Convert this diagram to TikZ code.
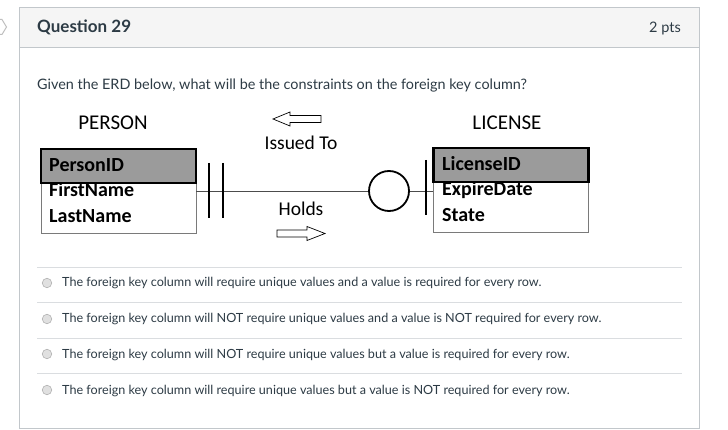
\documentclass[tikz,border=0pt]{standalone}
\usepackage{fontspec}
\setmainfont{Lato}
\newfontfamily\calfont{Carlito}
\definecolor{hdrbg}{HTML}{F5F5F5}
\definecolor{cardline}{HTML}{C2C7CB}
\definecolor{sepline}{HTML}{DADDE0}
\definecolor{txt}{HTML}{2D3B45}
\definecolor{hdrfill}{HTML}{9B9B9B}
\definecolor{boxline}{HTML}{7A7A7A}
\tikzset{
  qtext/.style={inner sep=0pt, text=txt},
  erdtext/.style={inner sep=0pt, font=\calfont\fontsize{19.5}{22}\selectfont},
  entlbl/.style={inner sep=0pt, font=\calfont\fontsize{21}{24}\selectfont},
  attr/.style={inner sep=0pt, anchor=base west, font=\calfont\bfseries\fontsize{20}{22}\selectfont},
  entbox/.style={draw=boxline, line width=0.8pt, fill=white, inner sep=0pt, minimum width=155pt, minimum height=84pt},
  enthdr/.style={draw=black, line width=2.4pt, fill=hdrfill, inner sep=0pt, minimum width=155pt, minimum height=34pt},
  conn/.style={draw=black!70, line width=0.9pt},
  tick/.style={draw=black, line width=2.4pt},
  hollow/.style={draw=black, line width=0.7pt, fill=white, line join=miter},
  sep/.style={draw=sepline, line width=0.8pt},
  radio/.style={circle, draw=black!30, fill=black!12, line width=0.6pt, minimum size=9.5pt, inner sep=0pt},
  opt/.style={qtext, anchor=base west, font=\fontsize{12.6}{14}\selectfont}
}
\begin{document}
\begin{tikzpicture}[x=1pt,y=-1pt]
\useasboundingbox (0,0) rectangle (728,430);
\fill[white] (0,0) rectangle (728,430);
% left marker
\draw[black!25, line width=1pt] (-6,19.5) -- (2,19.5) -- (6.5,27) -- (2,34.5) -- (-6,34.5);
% card
\fill[hdrbg] (19.5,7) rectangle (699.5,47);
\draw[cardline, line width=0.9pt] (19.5,7) rectangle (699.5,428);
\draw[cardline, line width=0.9pt] (19.5,47) -- (699.5,47);
\node[qtext, anchor=base west, font=\bfseries\fontsize{17}{20}\selectfont] (qtitle) at (37,33) {Question 29};
\node[qtext, anchor=base east, font=\fontsize{14.5}{17}\selectfont] (pts) at (681,32.5) {2 pts};
\node[qtext, anchor=base west, font=\fontsize{14.4}{17}\selectfont] (prompt) at (37,90) {Given the ERD below, what will be the constraints on the foreign key column?};
% ERD
\node[entlbl] (personlbl) at (113,123) {PERSON};
\node[entlbl] (licenselbl) at (507,123) {LICENSE};
\node[entbox] (person) at (118.5,191) {};
\node[entbox] (license) at (511,190) {};
\node[attr] (fname) at (49,196.5) {FirstName};
\node[attr] (lname) at (49,222.5) {LastName};
\node[attr] (edate) at (442,196) {ExpireDate};
\node[attr] (state) at (442,222) {State};
\node[enthdr] (personhdr) at (118.5,166) {};
\node[enthdr] (licensehdr) at (511,165) {};
\node[attr] (pid) at (49,171.5) {PersonID};
\node[attr] (lid) at (442,171) {LicenseID};
% relationship
\node[circle, draw=black, line width=1.8pt, fill=white, minimum size=40pt, inner sep=0pt] (optc) at (389,191) {};
\draw[conn] (person.east |- optc.west) -- (optc.west);
\draw[conn] (optc.east) -- (license.west |- optc.east);
\draw[tick] (209,163) -- (209,218);
\draw[tick] (223,163) -- (223,218);
\draw[tick] (426,160) -- (426,215);
\node[erdtext] (issued) at (301,142.5) {Issued To};
\node[erdtext] (holds) at (301,209) {Holds};
\draw[hollow] (273,119) -- (290,112) -- (290,115.5) -- (321,115.5) -- (321,122.5) -- (290,122.5) -- (290,126) -- cycle;
\draw[hollow] (325,233.5) -- (307,226.5) -- (307,230) -- (277,230) -- (277,237) -- (307,237) -- (307,240.5) -- cycle;
% options
\draw[sep] (37,267) -- (682,267);
\draw[sep] (37,302) -- (682,302);
\draw[sep] (37,338) -- (682,338);
\draw[sep] (37,373) -- (682,373);
\node[radio] (r1) at (47,283) {};
\node[radio] (r2) at (47,319) {};
\node[radio] (r3) at (47,354) {};
\node[radio] (r4) at (47,390) {};
\node[opt] (o1) at (62,287) {The foreign key column will require unique values and a value is required for every row.};
\node[opt] (o2) at (62,323) {The foreign key column will NOT require unique values and a value is NOT required for every row.};
\node[opt] (o3) at (62,358) {The foreign key column will NOT require unique values but a value is required for every row.};
\node[opt] (o4) at (62,394) {The foreign key column will require unique values but a value is NOT required for every row.};
\end{tikzpicture}
\end{document}
